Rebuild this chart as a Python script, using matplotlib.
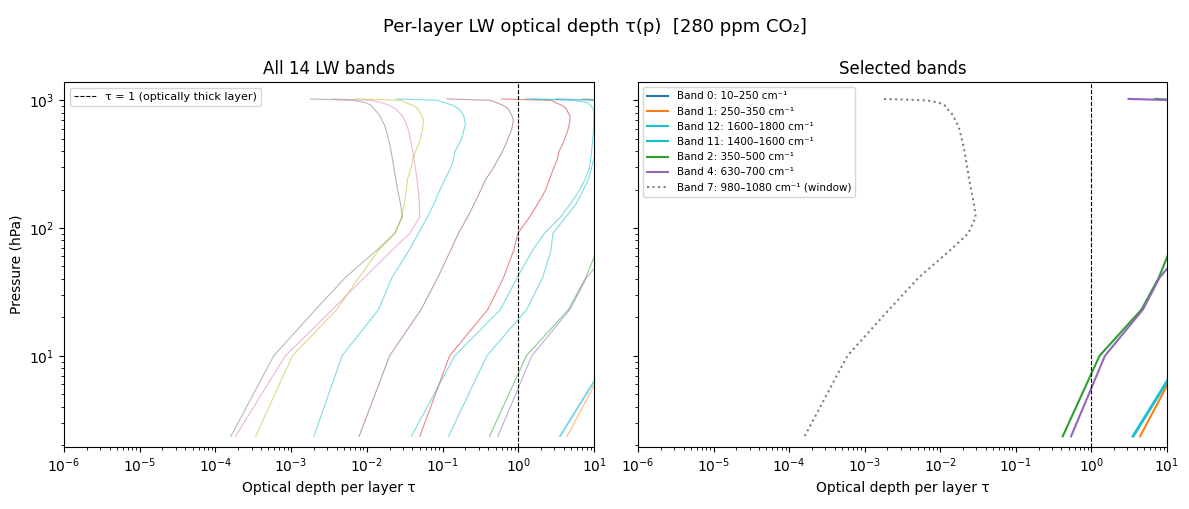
import matplotlib
matplotlib.use("Agg")
import matplotlib.pyplot as plt

# Layer mid-point pressures (hPa), surface -> top
p_hpa = [1025, 1000, 960, 910, 860, 810, 760, 700, 640, 580, 520, 460, 400,
         345, 290, 240, 195, 155, 122, 91, 67, 41, 23, 10, 2.34]

# Per-layer optical depth for each of the 14 LW bands (same order as p_hpa)
band0 = [30, 60, 70, 80, 85, 90, 90, 90, 88, 85, 82, 78, 74, 70, 65, 60, 55,
         50, 46, 42, 40, 35, 30, 26, 22]
band1 = [20, 45, 50, 55, 58, 60, 60, 60, 58, 56, 54, 50, 47, 44, 40, 37, 34,
         31, 28, 25, 23, 21, 19, 16.2, 4.4]
band2 = [7.0, 15, 18, 20, 22, 23, 24, 25, 25, 25, 24, 23, 22, 21, 20, 19, 17,
         15, 13.5, 12, 10.9, 7.8, 4.6, 1.28, 0.417]
band3 = [0.6, 2.7, 3.1, 3.8, 4.3, 4.5, 4.8, 4.8, 4.7, 4.5, 4.2, 3.9, 3.45,
         3.27, 2.9, 2.58, 2.26, 1.81, 1.41, 0.99, 0.87, 0.64, 0.395, 0.124, 0.05]
band4 = [3.1, 14, 17, 19, 21, 22, 23, 24, 24, 24, 23, 22, 21, 20, 19, 18, 17,
         16.5, 16, 16, 16, 8.0, 4.8, 1.51, 0.538]
band5 = [0.114, 0.43, 0.51, 0.64, 0.73, 0.78, 0.82, 0.86, 0.84, 0.81, 0.75,
         0.69, 0.62, 0.54, 0.46, 0.37, 0.316, 0.262, 0.214, 0.162, 0.128,
         0.0865, 0.052, 0.020, 7.9e-3]
band6 = [3.45e-3, 0.0112, 0.0155, 0.020, 0.0238, 0.0263, 0.0293, 0.0316,
         0.0335, 0.0356, 0.0369, 0.0385, 0.0403, 0.042, 0.044, 0.046, 0.048,
         0.0494, 0.050, 0.037, 0.0215, 9.3e-3, 3.5e-3, 8.4e-4, 1.84e-4]
band7 = [1.8e-3, 6.5e-3, 9.5e-3, 0.0115, 0.0123, 0.0136, 0.0148, 0.0158,
         0.0171, 0.0181, 0.0189, 0.0199, 0.0209, 0.0218, 0.0229, 0.0241,
         0.0257, 0.0278, 0.0294, 0.0235, 0.0135, 5.2e-3, 2.1e-3, 5.9e-4, 1.6e-4]
band8 = [7.0e-3, 0.028, 0.0324, 0.041, 0.047, 0.050, 0.053, 0.056, 0.0553,
         0.054, 0.0515, 0.0488, 0.044, 0.0403, 0.038, 0.0344, 0.0329, 0.0313,
         0.0288, 0.0234, 0.0143, 7.9e-3, 4.0e-3, 1.04e-3, 3.4e-4]
band9 = [1.24, 5.4, 8.1, 9.1, 9.7, 9.9, 10.0, 9.9, 9.9, 9.8, 9.7, 9.5, 9.3,
         9.0, 8.6, 7.6, 6.3, 4.9, 3.6, 2.22, 1.54, 0.97, 0.58, 0.145, 0.0387]
band10 = [1.5, 11, 12, 12.5, 13, 13.5, 14, 14, 14, 13.5, 13, 12, 11, 9.9, 9.2,
          8.4, 7.1, 5.8, 4.26, 2.87, 2.7, 2.1, 1.29, 0.385, 0.12]
band11 = [18, 40, 44, 48, 50, 52, 52, 52, 50, 48, 46, 44, 41, 38, 35, 32, 30,
          28, 26, 24, 22, 20, 18, 16.0, 3.5]
band12 = [20, 42, 46, 50, 52, 54, 54, 54, 52, 50, 48, 46, 43, 40, 37, 34, 32,
          30, 28, 26, 24, 21, 19, 16.5, 3.6]
band13 = [0.025, 0.084, 0.106, 0.138, 0.162, 0.176, 0.19, 0.195, 0.20, 0.19,
          0.183, 0.166, 0.146, 0.14, 0.126, 0.107, 0.091, 0.077, 0.063, 0.048,
          0.036, 0.0215, 0.0143, 4.7e-3, 2.0e-3]

bands = [band0, band1, band2, band3, band4, band5, band6, band7, band8,
         band9, band10, band11, band12, band13]

selected = [0, 1, 12, 11, 2, 4]
window_band = 7
band_labels = {
    0: "Band 0: 10–250 cm⁻¹",
    1: "Band 1: 250–350 cm⁻¹",
    12: "Band 12: 1600–1800 cm⁻¹",
    11: "Band 11: 1400–1600 cm⁻¹",
    2: "Band 2: 350–500 cm⁻¹",
    4: "Band 4: 630–700 cm⁻¹",
    7: "Band 7: 980–1080 cm⁻¹ (window)",
}

cmap = plt.get_cmap("tab10")

fig = plt.figure(figsize=(11.89, 5.09), dpi=100)
ax1 = fig.add_axes([0.0538, 0.1218, 0.4458, 0.7171])
ax2 = fig.add_axes([0.5366, 0.1218, 0.4449, 0.7171], sharey=ax1)

for i, tau in enumerate(bands):
    ax1.plot(tau, p_hpa, color=cmap(i), lw=0.8, alpha=0.55)
ax1.axvline(1.0, color="black", ls="--", lw=0.8,
            label="τ = 1 (optically thick layer)")

for i in selected:
    ax2.plot(bands[i], p_hpa, color=cmap(i), lw=1.5, label=band_labels[i])
ax2.plot(bands[window_band], p_hpa, color=cmap(window_band), lw=1.5,
         ls=":", label=band_labels[window_band])
ax2.axvline(1.0, color="black", ls="--", lw=0.8)

for ax in (ax1, ax2):
    ax.set_xscale("log")
    ax.set_yscale("log")
    ax.set_xlim(1e-6, 10)
    ax.set_xlabel("Optical depth per layer τ")
ax1.set_ylim(1.93, 1391)
ax1.set_ylabel("Pressure (hPa)")
plt.setp(ax2.get_yticklabels(), visible=False)

ax1.set_title("All 14 LW bands")
ax2.set_title("Selected bands")
ax1.legend(loc="upper left", fontsize=8)
ax2.legend(loc="upper left", fontsize=7.5)

fig.suptitle("Per-layer LW optical depth τ(p)  [280 ppm CO₂]", fontsize=13,
             y=0.965)

fig.savefig("out.png", dpi=100)
